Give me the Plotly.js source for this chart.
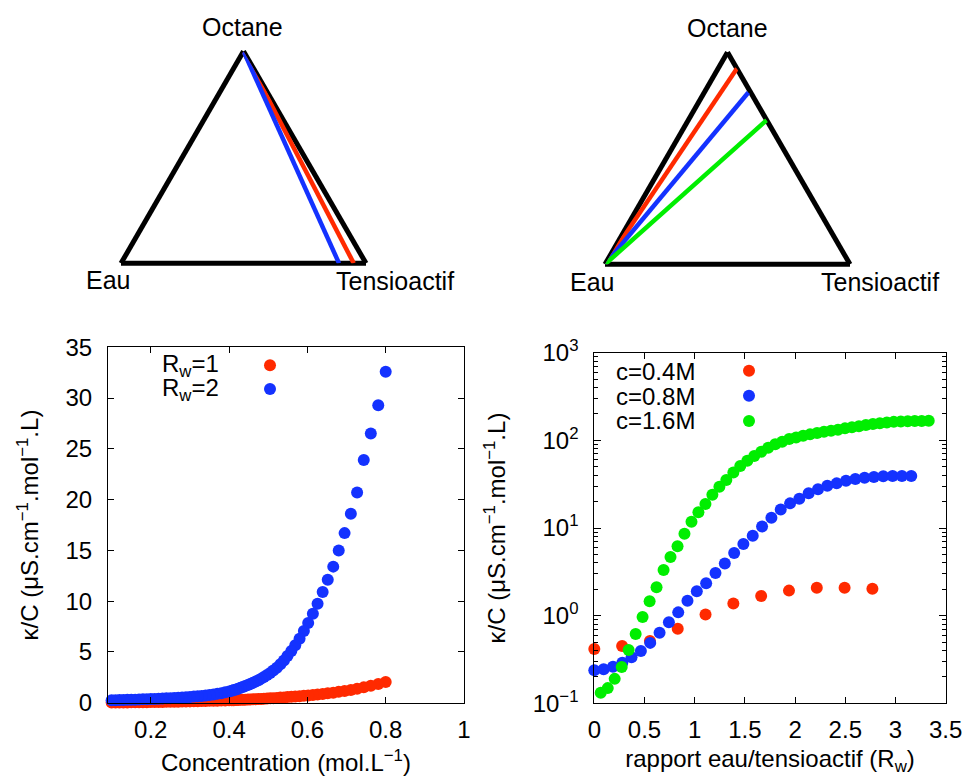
<!DOCTYPE html>
<html><head><meta charset="utf-8">
<script src="https://cdn.plot.ly/plotly-3.0.1.min.js"></script>
<style>html,body{margin:0;padding:0;background:#fff}</style>
</head><body><div id="chart" style="width:968px;height:776px"></div>
<script>
// ---------- data ----------
const RED = '#ff2a00', BLUE = '#1432ff', GREEN = '#00ee00';

// ternary diagrams: each path is a list of [a(Octane), b(Eau), c(Tensioactif)] compositions
const ternLeft_Rw1 = [[1, 0, 0], [0, 0.05, 0.95]];
const ternLeft_Rw2 = [[1, 0, 0], [0, 0.11, 0.89]];
const ternRight_c04 = [[0, 1, 0], [0.923, 0, 0.077]];
const ternRight_c08 = [[0, 1, 0], [0.81, 0.01, 0.18]];
const ternRight_c16 = [[0, 1, 0], [0.68, 0, 0.32]];
const vertexLabels = ['Octane', 'Eau', 'Tensioactif'];

// left plot: conductivity vs concentration
const concX = [0.800,0.781,0.762,0.744,0.727,0.711,0.695,0.680,0.666,0.652,0.639,0.626,0.614,0.602,0.591,0.580,0.569,0.559,0.549,0.540,0.531,0.522,0.513,0.505,0.497,0.489,0.482,0.475,0.468,0.461,0.454,0.448,0.441,0.435,0.429,0.423,0.418,0.412,0.407,0.400,0.39,0.38,0.37,0.36,0.35,0.34,0.33,0.32,0.31,0.30,0.29,0.28,0.27,0.26,0.25,0.24,0.23,0.22,0.21,0.20,0.19,0.18,0.17,0.16,0.15,0.14,0.13,0.12,0.11,0.10,0.09];
const kappaRw1 = [2.04,1.84,1.66,1.51,1.38,1.26,1.16,1.07,0.99,0.92,0.86,0.81,0.76,0.72,0.68,0.64,0.61,0.58,0.55,0.52,0.50,0.47,0.45,0.43,0.41,0.39,0.37,0.36,0.34,0.33,0.32,0.31,0.30,0.29,0.28,0.27,0.26,0.25,0.245,0.24,0.22,0.21,0.20,0.19,0.18,0.17,0.16,0.15,0.14,0.13,0.12,0.11,0.10,0.095,0.09,0.085,0.08,0.07,0.065,0.06,0.055,0.05,0.045,0.04,0.035,0.03,0.025,0.02,0.02,0.015,0.01];
const kappaRw2 = [32.6,29.3,26.5,23.9,20.7,18.6,16.7,15.0,13.4,12.1,10.9,9.75,8.75,7.85,7.05,6.3,5.65,5.1,4.6,4.15,3.78,3.45,3.16,2.93,2.72,2.53,2.37,2.22,2.08,1.96,1.85,1.74,1.64,1.55,1.46,1.38,1.31,1.24,1.18,1.11,1.02,0.94,0.87,0.81,0.76,0.71,0.67,0.63,0.60,0.57,0.54,0.51,0.49,0.47,0.45,0.43,0.41,0.39,0.37,0.36,0.34,0.33,0.32,0.30,0.29,0.28,0.27,0.26,0.25,0.24,0.23];

// right plot: conductivity vs Rw
const rwC04 = [0,0.277,0.554,0.831,1.108,1.385,1.662,1.939,2.216,2.493,2.77];
const kC04 = [0.417,0.45,0.515,0.71,1.03,1.38,1.68,1.93,2.08,2.08,2.03];
const rwC08 = [0,0.093,0.186,0.279,0.371,0.464,0.557,0.650,0.743,0.836,0.928,1.021,1.114,1.207,1.300,1.393,1.485,1.578,1.671,1.764,1.857,1.950,2.042,2.135,2.228,2.321,2.414,2.507,2.600,2.692,2.785,2.878,2.971,3.064,3.157];
const kC08 = [0.238,0.245,0.262,0.291,0.335,0.395,0.489,0.64,0.84,1.09,1.48,1.90,2.34,3.07,3.94,5.19,6.57,8.17,10.4,13.1,16.3,19.1,21.6,24.9,27.6,30.3,32.3,34.6,36.2,37.5,38.2,38.9,39.2,39.2,39.2];
const rwC16 = [0.064,0.134,0.203,0.273,0.342,0.412,0.481,0.551,0.620,0.690,0.759,0.829,0.898,0.968,1.037,1.107,1.176,1.246,1.315,1.385,1.454,1.524,1.593,1.663,1.732,1.802,1.871,1.941,2.010,2.080,2.149,2.219,2.288,2.358,2.427,2.497,2.566,2.636,2.705,2.775,2.844,2.914,2.983,3.053,3.122,3.192,3.261,3.331];
const kC16 = [0.132,0.149,0.19,0.26,0.406,0.618,0.966,1.46,2.11,3.32,4.67,6.18,8.61,11.8,15.1,18.8,24.0,29.6,35.3,43.1,50.9,58.5,66.2,74.1,82.4,90.0,96.4,103.5,108,112.8,117,121.5,125.5,129,132.5,137,141,145,149.5,153.5,157,160,162.5,164,165,166,166.5,167];

const logTickVals = [0.1, 1, 10, 100, 1000];
const logTickText = ['10<sup>−1</sup>', '10<sup>0</sup>', '10<sup>1</sup>', '10<sup>2</sup>', '10<sup>3</sup>'];
const legendLeftText = ['R<sub>w</sub>=1', 'R<sub>w</sub>=2'];
const legendRightText = ['c=0.4M', 'c=0.8M', 'c=1.6M'];
const yTitle = '\u00a0\u00a0\u00a0\u00a0κ/C (μS.cm<sup>−1</sup>.mol<sup>−1</sup>.L)';

// ---------- helpers ----------
const W = 968, H = 776;
const px = v => v / W;
const py = v => 1 - v / H;
const FONT = 'Liberation Sans, Arial, Helvetica, sans-serif';

function ternLine(path, color, sub) {
  return {
    type: 'scatterternary', subplot: sub, mode: 'lines',
    a: path.map(p => p[0]), b: path.map(p => p[1]), c: path.map(p => p[2]),
    line: {color: color, width: 4.5}, showlegend: false, hoverinfo: 'skip'
  };
}
function pts(x, y, color, xa, ya, leg) {
  return {
    type: 'scatter', mode: 'markers', x: x, y: y, xaxis: xa, yaxis: ya,
    marker: {color: color, size: 12, line: {width: 0}}, cliponaxis: false,
    name: ' ', legend: leg, showlegend: true, hoverinfo: 'x+y'
  };
}

const data = [
  ternLine(ternLeft_Rw1, RED, 'ternary'),
  ternLine(ternLeft_Rw2, BLUE, 'ternary'),
  ternLine(ternRight_c04, RED, 'ternary2'),
  ternLine(ternRight_c08, BLUE, 'ternary2'),
  ternLine(ternRight_c16, GREEN, 'ternary2'),
  pts(concX, kappaRw1, RED, 'x', 'y', 'legend'),
  pts(concX, kappaRw2, BLUE, 'x', 'y', 'legend'),
  pts(rwC04, kC04, RED, 'x2', 'y2', 'legend2'),
  pts(rwC08, kC08, BLUE, 'x2', 'y2', 'legend2'),
  pts(rwC16, kC16, GREEN, 'x2', 'y2', 'legend2')
];

const tAx = {showgrid: false, showticklabels: false, ticks: '', linecolor: '#000', linewidth: 5,
  title: {text: ''}, layer: 'below traces', min: 0};
function ternary(x0, x1, yTop, yBot) {
  return {domain: {x: [px(x0), px(x1)], y: [py(yBot), py(yTop)]}, sum: 1,
    bgcolor: 'rgba(0,0,0,0)', aaxis: tAx, baxis: tAx, caxis: tAx};
}

const axCommon = {
  ticks: 'inside', ticklen: 6, tickwidth: 1, tickcolor: '#000', showline: true, linecolor: '#000',
  linewidth: 1, mirror: 'ticks', showgrid: false, zeroline: false,
  tickfont: {size: 24, color: '#000', family: FONT}
};

const ann = [];
function addText(text, x, y, xanchor, size) {
  ann.push({text: text, xref: 'paper', yref: 'paper', x: px(x), y: py(y), xanchor: xanchor,
    yanchor: 'middle', showarrow: false, font: {size: size, color: '#000', family: FONT}});
}
// vertex labels
addText(vertexLabels[0], 242.3, 27.5, 'center', 25);
addText(vertexLabels[1], 108.3, 280, 'center', 25);
addText(vertexLabels[2], 395, 280.5, 'center', 25);
addText(vertexLabels[0], 727.2, 27.8, 'center', 25);
addText(vertexLabels[1], 592, 281.7, 'center', 25);
addText(vertexLabels[2], 879.7, 281.7, 'center', 25);
// key labels
addText(legendLeftText[0], 221, 365, 'right', 24);
addText(legendLeftText[1], 221, 389.2, 'right', 24);
addText(legendRightText[0], 697.3, 371.7, 'right', 24);
addText(legendRightText[1], 697.3, 396.7, 'right', 24);
addText(legendRightText[2], 697.3, 421, 'right', 24);

const layout = {
  width: W, height: H, autosize: false,
  margin: {l: 0, r: 0, t: 0, b: 0, pad: 0},
  paper_bgcolor: '#fff', plot_bgcolor: 'rgba(0,0,0,0)',
  font: {family: FONT, color: '#000', size: 24},
  ternary: ternary(121, 366, 51, 263.5),
  ternary2: ternary(605, 850, 52, 264.5),
  xaxis: Object.assign({}, axCommon, {domain: [px(108), px(464)], anchor: 'y', range: [0.0907, 1.0],
    tick0: 0, dtick: 0.2, ticklabelstandoff: 5,
    title: {text: 'Concentration (mol.L<sup>−1</sup>)', font: {size: 24, family: FONT}, standoff: 17}}),
  yaxis: Object.assign({}, axCommon, {domain: [py(702.7), py(347.3)], anchor: 'x', range: [0, 35],
    dtick: 5, ticklabelstandoff: 10,
    title: {text: yTitle, font: {size: 24, family: FONT}, standoff: 20}}),
  xaxis2: Object.assign({}, axCommon, {domain: [px(594.3), px(945.7)], anchor: 'y2', range: [0, 3.5],
    tick0: 0, dtick: 0.5, ticklabelstandoff: 5,
    title: {text: 'rapport eau/tensioactif (R<sub>w</sub>)', font: {size: 24, family: FONT}, standoff: 17}}),
  yaxis2: Object.assign({}, axCommon, {domain: [py(703.3), py(352.7)], anchor: 'x2', type: 'log',
    range: [-1, 3], tickmode: 'array', tickvals: logTickVals, ticktext: logTickText, ticklen: 7,
    ticklabelstandoff: 10,
    minor: {tickmode: 'linear', dtick: 'D1', ticks: 'inside', ticklen: 4, tickcolor: '#000', showgrid: false},
    title: {text: yTitle, font: {size: 24, family: FONT}, standoff: 20}}),
  legend: {x: px(250), y: py(348.4), xanchor: 'left', yanchor: 'top', bgcolor: 'rgba(0,0,0,0)',
    borderwidth: 0, font: {size: 16}, tracegroupgap: 0},
  legend2: {x: px(729), y: py(353.2), xanchor: 'left', yanchor: 'top', bgcolor: 'rgba(0,0,0,0)',
    borderwidth: 0, font: {size: 17}, tracegroupgap: 0},
  annotations: ann,
  showlegend: true
};

Plotly.newPlot('chart', data, layout, {displayModeBar: false, staticPlot: true});
</script></body></html>
